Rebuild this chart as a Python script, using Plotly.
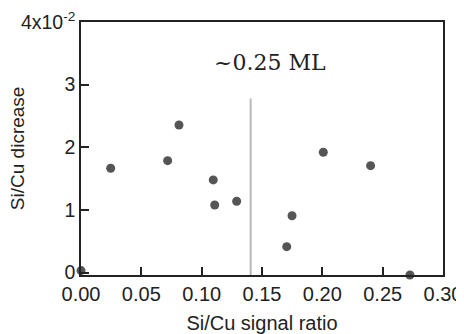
import plotly.graph_objects as go

# data (y in units of 1e-2)
x_ratio = [0.0, 0.0246, 0.0718, 0.0812, 0.1096, 0.1108, 0.129, 0.1705, 0.1749, 0.2008, 0.240, 0.2726]
y_decrease = [0.03, 1.665, 1.786, 2.356, 1.478, 1.078, 1.137, 0.412, 0.907, 1.920, 1.706, -0.04]

marker_x = [0.1406, 0.1406]
marker_y = [-0.04, 2.78]

x_tickvals = [0.0, 0.05, 0.10, 0.15, 0.20, 0.25, 0.30]
x_ticktext = ["0.00", "0.05", "0.10", "0.15", "0.20", "0.25", "0.30"]
y_tickvals = [0, 1, 2, 3, 4]
y_ticktext = ["0", "1", "2", "3", "4x10<sup>-2</sup>"]

label_text = "~0.25 ML"
label_pos = (0.157, 3.35)

fig = go.Figure()
fig.add_trace(go.Scatter(x=marker_x, y=marker_y, mode="lines",
                         line=dict(color="#b8b8b8", width=2), showlegend=False,
                         hoverinfo="skip"))
fig.add_trace(go.Scatter(x=x_ratio, y=y_decrease, mode="markers",
                         marker=dict(color="#555555", size=9), showlegend=False,
                         cliponaxis=False))

axis_common = dict(showgrid=False, zeroline=False, showline=True, linecolor="#222222",
                   linewidth=1.5, mirror=True, ticks="inside", ticklen=8, tickwidth=1.5,
                   tickcolor="#222222", automargin=False, ticklabeloverflow="allow")

fig.update_xaxes(range=[0, 0.30], tickvals=x_tickvals, ticktext=x_ticktext,
                 tickfont=dict(family="Liberation Sans, Arial, sans-serif", size=20, color="#222222"),
                 title=dict(text="Si/Cu signal ratio", standoff=12,
                            font=dict(family="Liberation Sans, Arial, sans-serif", size=20, color="#222222")),
                 **axis_common)
fig.update_yaxes(range=[-0.04, 4.0], tickvals=y_tickvals, ticktext=y_ticktext,
                 tickfont=dict(family="Liberation Sans, Arial, sans-serif", size=19.5, color="#222222"),
                 **axis_common)

fig.add_annotation(x=label_pos[0], y=label_pos[1], text=label_text, showarrow=False,
                   font=dict(family="DejaVu Serif, serif", size=22, color="#222222"))
fig.add_annotation(xref="paper", yref="paper", x=-0.175, y=0.5, text="Si/Cu dicrease",
                   textangle=-90, showarrow=False, xanchor="center", yanchor="middle",
                   font=dict(family="Liberation Sans, Arial, sans-serif", size=19, color="#222222"))

# page body has an 8px margin; size the figure so the plot area lands where the reference has it
fig.update_layout(width=456, height=326, margin=dict(l=73, r=21, t=14, b=59),
                  plot_bgcolor="white", paper_bgcolor="white")
fig.write_html("out.html")
